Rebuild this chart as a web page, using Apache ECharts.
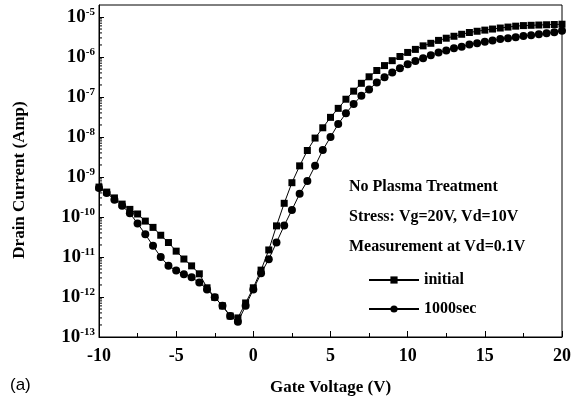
<!DOCTYPE html>
<html>
<head>
<meta charset="utf-8">
<script src="https://cdn.jsdelivr.net/npm/echarts@6/dist/echarts.min.js"></script>
<style>
  html, body { margin: 0; padding: 0; background: #fff; }
  #chart { width: 587px; height: 406px; }
</style>
</head>
<body>
<div id="chart"></div>
<script>
// gate voltage (V), 0.5 V steps
const gateVoltage = [
  -10, -9.5, -9, -8.5, -8, -7.5, -7, -6.5, -6, -5.5, -5, -4.5, -4, -3.5, -3, -2.5, -2, -1.5, -1, -0.5,
  0, 0.5, 1, 1.5, 2, 2.5, 3, 3.5, 4, 4.5, 5, 5.5, 6, 6.5, 7, 7.5, 8, 8.5, 9, 9.5,
  10, 10.5, 11, 11.5, 12, 12.5, 13, 13.5, 14, 14.5, 15, 15.5, 16, 16.5, 17, 17.5, 18, 18.5, 19, 19.5, 20
]
// drain current (A)
const initialCurrent = [
  5.6e-10, 4.2e-10, 3.0e-10, 2.1e-10, 1.55e-10, 1.19e-10, 7.9e-11, 5.5e-11, 3.5e-11, 2.3e-11,
  1.4e-11, 8.9e-12, 6.0e-12, 3.8e-12, 1.7e-12, 9.8e-13, 6.0e-13, 3.35e-13, 3.0e-13, 7.1e-13,
  1.7e-12, 4.7e-12, 1.5e-11, 6.0e-11, 2.2e-10, 7.2e-10, 1.9e-9, 4.6e-9, 9.4e-9, 1.7e-8,
  3.1e-8, 5.2e-8, 8.8e-8, 1.4e-7, 2.2e-7, 3.2e-7, 4.6e-7, 6.1e-7, 8.1e-7, 1.03e-6,
  1.3e-6, 1.55e-6, 1.9e-6, 2.2e-6, 2.6e-6, 2.95e-6, 3.3e-6, 3.7e-6, 4.1e-6, 4.4e-6,
  4.7e-6, 5.0e-6, 5.3e-6, 5.6e-6, 5.9e-6, 6.1e-6, 6.2e-6, 6.3e-6, 6.4e-6, 6.5e-6, 6.6e-6
]
const stressedCurrent = [
  5.3e-10, 4.0e-10, 2.7e-10, 1.9e-10, 1.24e-10, 6.9e-11, 3.7e-11, 1.9e-11, 1.0e-11, 6.0e-12,
  4.6e-12, 3.7e-12, 3.1e-12, 2.3e-12, 1.55e-12, 9.8e-13, 6.0e-13, 3.35e-13, 2.4e-13, 6.0e-13,
  1.55e-12, 3.9e-12, 8.8e-12, 2.3e-11, 6.1e-11, 1.5e-10, 3.8e-10, 7.9e-10, 1.9e-9, 4.7e-9,
  1.0e-8, 2.1e-8, 3.9e-8, 6.7e-8, 1.07e-7, 1.55e-7, 2.3e-7, 3.1e-7, 4.1e-7, 5.2e-7,
  6.6e-7, 7.9e-7, 9.3e-7, 1.1e-6, 1.3e-6, 1.45e-6, 1.65e-6, 1.8e-6, 2.05e-6, 2.2e-6,
  2.4e-6, 2.6e-6, 2.8e-6, 2.95e-6, 3.1e-6, 3.35e-6, 3.5e-6, 3.7e-6, 3.9e-6, 4.15e-6, 4.5e-6
]
const decades = [-13, -12, -11, -10, -9, -8, -7, -6, -5]
const seriesNames = ['initial', '1000sec']
const noteLines = ['No Plasma Treatment', 'Stress: Vg=20V, Vd=10V', 'Measurement at Vd=0.1V']

const serif = '"Liberation Serif", "Times New Roman", serif'

function toPoints(vals) {
  return gateVoltage.map((v, i) => [v, Math.log10(vals[i])])
}

// log-spaced minor ticks on the y axis (2..9 in each decade)
const minorY = []
decades.slice(0, -1).forEach(d => {
  for (let k = 2; k <= 9; k++) minorY.push([-10, d + Math.log10(k)])
})

const chart = echarts.init(document.getElementById('chart'))
chart.setOption({
  animation: false,
  grid: {
    left: 99,
    right: 25,
    top: 5,
    bottom: 69,
    show: true,
    borderColor: '#000',
    borderWidth: 1
  },
  legend: {
    data: seriesNames,
    orient: 'vertical',
    left: 363,
    top: 267,
    itemWidth: 50,
    itemHeight: 9,
    itemGap: 13,
    textStyle: { fontFamily: serif, fontWeight: 'bold', fontSize: 16, color: '#000' }
  },
  xAxis: {
    type: 'value',
    min: -10,
    max: 20,
    interval: 5,
    name: 'Gate Voltage (V)',
    nameLocation: 'middle',
    nameGap: 42,
    nameTextStyle: { fontFamily: serif, fontWeight: 'bold', fontSize: 17, color: '#000' },
    axisLine: { onZero: false, lineStyle: { color: '#000', width: 1 } },
    axisTick: { inside: true, length: 6, lineStyle: { color: '#000' } },
    minorTick: { show: true, splitNumber: 2, length: 4, lineStyle: { color: '#000' } },
    splitLine: { show: false },
    axisLabel: { margin: 10, fontFamily: serif, fontWeight: 'bold', fontSize: 18, color: '#000' }
  },
  yAxis: {
    type: 'value',
    min: -13,
    max: -4.7,
    interval: 1,
    axisLine: { show: true, onZero: false, lineStyle: { color: '#000', width: 1 } },
    axisTick: { inside: true, length: 5, lineStyle: { color: '#000' } },
    splitLine: { show: false },
    axisLabel: {
      margin: 4,
      showMaxLabel: false,
      formatter: v => Math.abs(v - Math.round(v)) > 1e-6 ? '' : '{b|10}{s|' + Math.round(v) + '}',
      rich: {
        b: { fontFamily: serif, fontWeight: 'bold', fontSize: 19, color: '#000' },
        s: { fontFamily: serif, fontWeight: 'bold', fontSize: 11, color: '#000', verticalAlign: 'bottom', padding: [0, 0, 10, 0] }
      }
    }
  },
  graphic: [
    {
      type: 'text',
      x: 20, y: 180,
      rotation: Math.PI / 2,
      style: { text: 'Drain Current (Amp)', fontFamily: serif, fontWeight: 'bold', fontSize: 17, fill: '#000', align: 'center', verticalAlign: 'middle' }
    },
    {
      type: 'text',
      x: 10, y: 385,
      style: { text: '(a)', fontFamily: '"Liberation Sans", Arial, sans-serif', fontSize: 17, fill: '#000', align: 'left', verticalAlign: 'middle' }
    }
  ].concat(noteLines.map((t, i) => ({
    type: 'text',
    x: 349, y: 187 + i * 30,
    style: { text: t, fontFamily: serif, fontWeight: 'bold', fontSize: 16, fill: '#000', align: 'left', verticalAlign: 'middle' }
  }))),
  series: [
    {
      name: seriesNames[0],
      type: 'line',
      data: toPoints(initialCurrent),
      symbol: 'rect',
      symbolSize: 7,
      itemStyle: { color: '#000' },
      lineStyle: { color: '#000', width: 1 }
    },
    {
      name: seriesNames[1],
      type: 'line',
      data: toPoints(stressedCurrent),
      symbol: 'circle',
      symbolSize: 8,
      itemStyle: { color: '#000' },
      lineStyle: { color: '#000', width: 1 }
    },
    {
      type: 'custom',
      silent: true,
      data: minorY,
      renderItem: (params, api) => {
        const p = api.coord([api.value(0), api.value(1)])
        return {
          type: 'line',
          shape: { x1: p[0], y1: p[1], x2: p[0] + 3, y2: p[1] },
          style: { stroke: '#000', lineWidth: 1 }
        }
      }
    }
  ]
})
</script>
</body>
</html>
